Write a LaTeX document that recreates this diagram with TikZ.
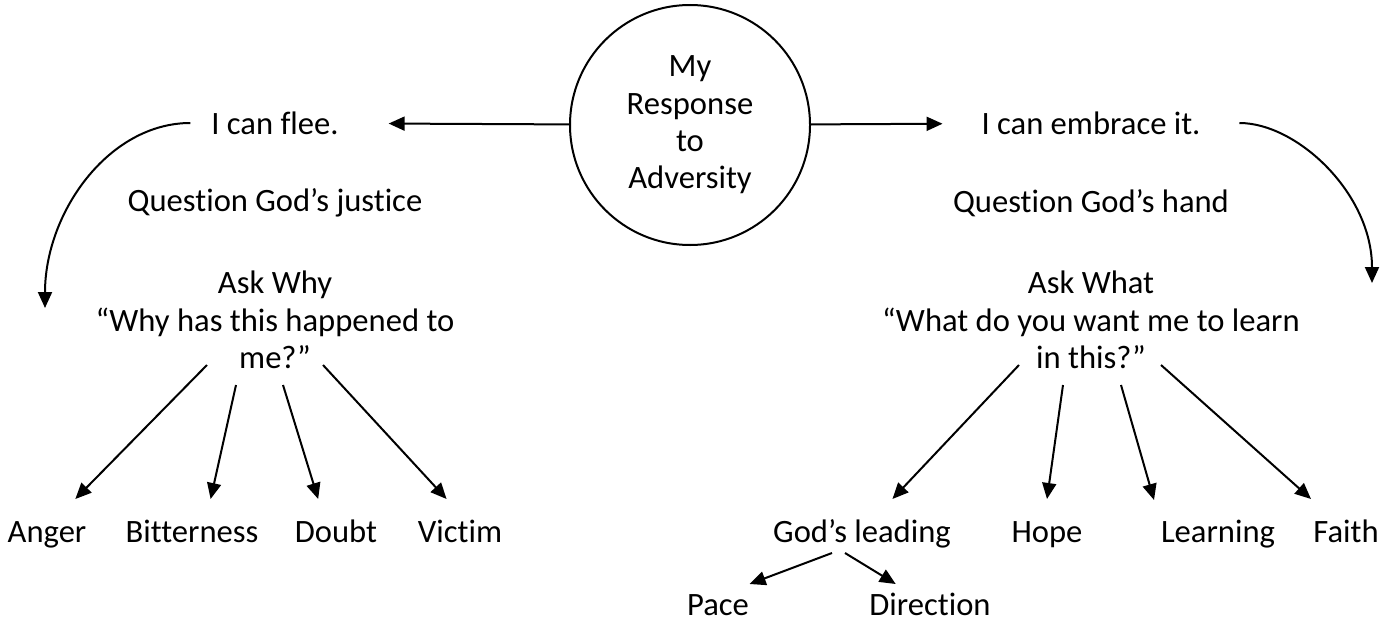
\documentclass[tikz,border=0pt]{standalone}
\usepackage{fontspec}
\setmainfont{Carlito}[Ligatures=NoCommon]
\usetikzlibrary{arrows.meta}

\begin{document}
\begin{tikzpicture}[x=0.5pt,y=-0.5pt,>={Triangle[length=8pt,width=7pt]},line width=1pt,
	                    txt node/.style={font=\fontsize{16.3}{18.7}\selectfont,inner sep=3pt,align=center},
	                    leaf node/.style={txt node,text height=12pt,text depth=4pt,inner ysep=9pt},
	                    sub node/.style={txt node,text height=12pt,text depth=0pt,inner ysep=3pt},
	                    main node/.style={txt node,circle,draw,minimum size=120pt,inner sep=0pt}]
		\useasboundingbox (0,0) rectangle (1392,621);
		% Nodes
		  %Top
		  \node (resp) at (690,125) [main node] {My\\Response\\to\\Adversity};
		  \node (flee) at (275,123) [txt node] {I can flee.};
		  \node (embrace) at (1091,123) [txt node] {I can embrace it.};
		  \coordinate (fleeEnd) at (45,308);
		  \coordinate (embraceEnd) at (1372,283);
		  
		  %Left
		  \node (justice) at (275,203) [txt node] {Question God’s justice};
		  \node (why) at (275,320) [txt node] {Ask Why\\“Why has this happened to\\me?”};
		  \coordinate (why1) at (207,365);
		  \coordinate (why2) at (236,385);
		  \coordinate (why3) at (283,385);
		  \coordinate (why4) at (323,365);
		  
		  \node (anger) at (47,534) [leaf node] {Anger};
		  \node (bitter) at (192,534) [leaf node] {Bitterness};
		  \node (doubt) at (336,534) [leaf node] {Doubt};
		  \node (victim) at (460,534) [leaf node] {Victim};
		  
		  %Right
		  \node (hand) at (1091,203) [txt node] {Question God’s hand};
		  \node (what) at (1091,320) [txt node] {Ask What\\“What do you want me to learn\\in this?”};
		  \coordinate (what1) at (1019,365);
		  \coordinate (what2) at (1063,385);
		  \coordinate (what3) at (1121,385);
		  \coordinate (what4) at (1161,365);
		  
		  \node (lead) at (862,534) [leaf node] {God’s leading};
		  \node (hope) at (1047,534) [leaf node] {Hope};
		  \node (learn) at (1218,534) [leaf node] {Learning};
		  \node (faith) at (1346,534) [leaf node] {Faith};
		  \coordinate (lead1) at (832,553);
		  \coordinate (lead2) at (845,553);
		  
		  \node (pace) at (718,603) [sub node] {Pace};
		  \node (dir) at (930,603) [sub node] {Direction};
		
		% Edges
		  \draw[->,shorten >=21.5pt] (resp) -- (flee);
		  \draw[->,shorten >=16pt] (resp) -- (embrace);
		  \draw[->,shorten <=7pt] (flee.west) to[out=180,in=90] (fleeEnd);
		  \draw[->,shorten <=16pt] (embrace.east) to[out=0,in=90] (embraceEnd);
		  
		  \draw[->] (why1) -- (anger.51);
		  \draw[->] (why2) -- (bitter.62);
		  \draw[->] (why3) -- (doubt.117);
		  \draw[->] (why4) -- (victim.111);
		  
		  \draw[->] (what1) -- (lead.49);
		  \draw[->] (what2) -- (hope.north);
		  \draw[->] (what3) -- (learn.152);
		  \draw[->] (what4) -- (faith.135);
		  
		  \draw[->] (lead1) -- (pace.31);
		  \draw[->] (lead2) -- (dir.151);
		  
		\end{tikzpicture}
\end{document}
